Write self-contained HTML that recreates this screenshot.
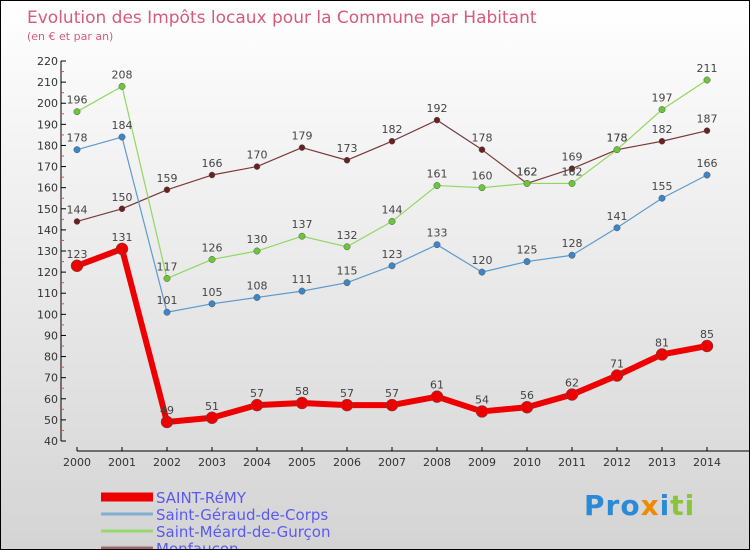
<!DOCTYPE html>
<html><head><meta charset="utf-8"><style>
body{margin:0}
#c{width:750px;height:550px;position:relative;overflow:hidden;box-sizing:border-box;border:1px solid #000;background:linear-gradient(#ffffff,#d4d4d4);font-family:"DejaVu Sans","Liberation Sans",sans-serif}
</style></head><body>
<div id="c">
<svg id="s" width="750" height="550">
<text x="26" y="22" font-size="17" fill="#d65a7a">Evolution des Impôts locaux pour la Commune par Habitant</text>
<text x="26" y="39" font-size="11" fill="#d65a7a">(en € et par an)</text>
</svg>
<div style="position:absolute;left:583px;top:488px;font-size:28px;font-weight:bold;font-family:'DejaVu Sans',sans-serif;letter-spacing:1px"><span style="color:#2a8ad8">Pro</span><span style="color:#f08a00">x</span><span style="color:#2a8ad8">i</span><span style="color:#8ac43a">ti</span></div>
</div>
<script>
const years=[2000,2001,2002,2003,2004,2005,2006,2007,2008,2009,2010,2011,2012,2013,2014];
const yTicks=[40,50,60,70,80,90,100,110,120,130,140,150,160,170,180,190,200,210,220];
const seriesNames=["SAINT-RéMY","Saint-Géraud-de-Corps","Saint-Méard-de-Gurçon","Monfaucon"];
const remy=[123,131,49,51,57,58,57,57,61,54,56,62,71,81,85];
const geraud=[178,184,101,105,108,111,115,123,133,120,125,128,141,155,166];
const meard=[196,208,117,126,130,137,132,144,161,160,162,162,178,197,211];
const monfaucon=[144,150,159,166,170,179,173,182,192,178,162,169,178,182,187];
const NS="http://www.w3.org/2000/svg",s=document.getElementById('s');
const x=i=>76+i*45, y=v=>440-(v-40)*2.111;
function el(t,a,p){const e=document.createElementNS(NS,t);for(const k in a)e.setAttribute(k,a[k]);(p||s).appendChild(e);return e;}
// axes
let ax=el('line',{x1:60,y1:y(220),x2:60,y2:440,stroke:'#000'});

let bx=el('line',{x1:76,y1:450,x2:750,y2:450,stroke:'#000'});

yTicks.forEach(v=>{el('line',{x1:60,y1:y(v),x2:65,y2:y(v),stroke:'#000'});
 let m=el('line',{x1:60,y1:y(v+5),x2:63,y2:y(v+5),stroke:'#e44'});if(v==220)m.remove();
 let t=el('text',{x:57,y:y(v)+4,'text-anchor':'end','font-size':11,fill:'#333'});t.textContent=v;
 });
years.forEach((yr,i)=>{el('line',{x1:x(i),y1:446,x2:x(i),y2:450,stroke:'#000'});
 let t=el('text',{x:x(i),y:465,'text-anchor':'middle','font-size':11,fill:'#333'});t.textContent=yr;
 });
function series(d,col,w,r,name,dot){
 const g=el('g',{});
 el('polyline',{points:d.map((v,i)=>x(i)+','+y(v)).join(' '),fill:'none',stroke:col,'stroke-width':w,'stroke-linejoin':'round'},g);
 d.forEach((v,i)=>{let c=el('circle',{cx:x(i),cy:y(v),r:r,fill:dot,stroke:'#555','stroke-width':0.5},g);
  
  let t=el('text',{x:x(i),y:y(v)-8,'text-anchor':'middle','font-size':11,fill:'#444'},g);t.textContent=v;});
}
series(monfaucon,'#7a3a3a',1.2,3,'series-monfaucon','#6b2020');
series(meard,'#8fd860',1.2,3.2,'series-saint-meard','#6cc63a');
series(geraud,'#5a9ad0',1.2,3.2,'series-saint-geraud','#3a86c8');
series(remy,'#ee0000',6,6,'series-saint-remy','#ee0000');
const lc=['#ee0000','#7fb0d0','#98d870','#9a6a6a'],lw=[9,3,3,3];
seriesNames.forEach((n,i)=>{const ly=496+i*17;
 let l=el('line',{x1:100,y1:ly,x2:152,y2:ly,stroke:lc[i],'stroke-width':lw[i]});
 
 let t=el('text',{x:155,y:ly+6,'font-size':15,fill:'#5a5af0'});t.textContent=n;
 });
</script>
</body></html>
